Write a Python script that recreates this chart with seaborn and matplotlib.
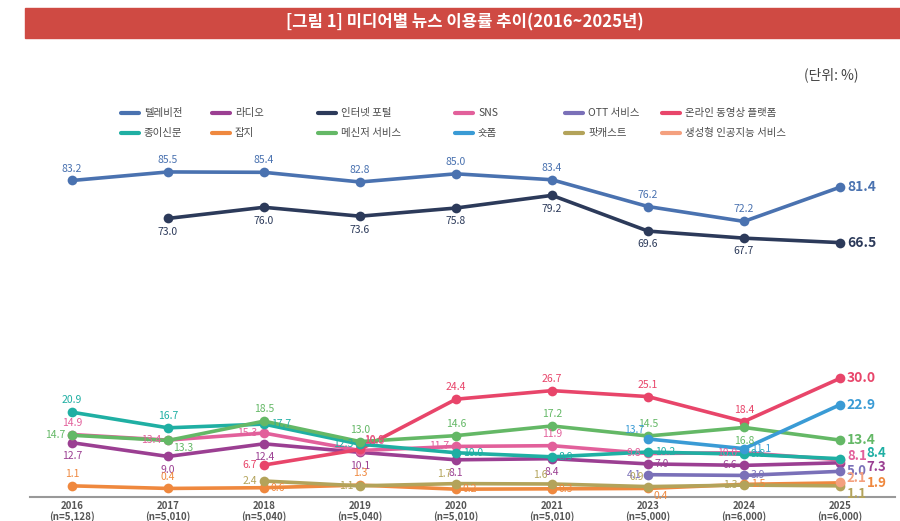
import numpy as np
import pandas as pd
import seaborn as sns
import matplotlib.pyplot as plt
from matplotlib.patches import Rectangle
from matplotlib.lines import Line2D

sns.set_theme(style='white')
plt.rcParams['font.family'] = ['Noto Sans CJK KR', 'DejaVu Sans']

nan = np.nan
years = ['2016', '2017', '2018', '2019', '2020', '2021', '2023', '2024', '2025']
samples = ['5,128', '5,010', '5,040', '5,040', '5,010', '5,010', '5,000', '6,000', '6,000']

media = ['텔레비전', '라디오', '인터넷 포털', 'SNS', 'OTT 서비스', '온라인 동영상 플랫폼',
         '종이신문', '잡지', '메신저 서비스', '숏폼', '팟캐스트', '생성형 인공지능 서비스']

tv = [83.2, 85.5, 85.4, 82.8, 85.0, 83.4, 76.2, 72.2, 81.4]
radio = [12.7, 9.0, 12.4, 10.1, 8.1, 8.4, 7.0, 6.6, 7.3]
portal = [nan, 73.0, 76.0, 73.6, 75.8, 79.2, 69.6, 67.7, 66.5]
sns_use = [14.9, 13.4, 15.3, 10.6, 11.7, 11.9, 9.8, 10.0, 8.1]
ott = [nan, nan, nan, nan, nan, nan, 4.1, 3.9, 5.0]
video = [nan, nan, 6.7, 10.9, 24.4, 26.7, 25.1, 18.4, 30.0]
paper = [20.9, 16.7, 17.7, 12.3, 10.0, 8.9, 10.2, 9.6, 8.4]
magazine = [1.1, 0.4, 0.6, 1.3, 0.2, 0.3, 0.4, 1.5, 1.9]
messenger = [14.7, 13.3, 18.5, 13.0, 14.6, 17.2, 14.5, 16.8, 13.4]
shortform = [nan, nan, nan, nan, nan, nan, 13.7, 11.1, 22.9]
podcast = [nan, nan, 2.4, 1.1, 1.7, 1.6, 0.9, 1.3, 1.1]
gen_ai = [nan, nan, nan, nan, nan, nan, nan, nan, 2.1]

values = [tv, radio, portal, sns_use, ott, video, paper, magazine, messenger, shortform, podcast, gen_ai]

colors = ['#4a72b0', '#9b3f92', '#2c3a5a', '#e2609b', '#7a70b8', '#e8456a',
          '#1fafa3', '#ef883e', '#64b866', '#3a9bd5', '#b3a35a', '#f4a07e']

# label placement per point: a=above b=below l=left r=right R=second column on the right
label_pos = {
    '텔레비전': ['a'] * 8 + ['r'],
    '인터넷 포털': ['b'] * 8 + ['r'],
    '라디오': ['b', 'b', 'b', 'b', 'b', 'b', 'r', 'l', 'Rd'],
    'SNS': ['a', 'l', 'l', 'ar', 'l', 'a', 'l', 'l', 'ru'],
    'OTT 서비스': [None] * 6 + ['l', 'r', 'r'],
    '온라인 동영상 플랫폼': [None, None, 'l', 'ar', 'a', 'a', 'a', 'a', 'r'],
    '종이신문': ['a', 'a', 'r', 'l', 'r', 'r', 'r', 'r', 'Ru'],
    '잡지': ['a', 'a', 'r', 'a', 'r', 'r', 'br', 'r', 'R'],
    '메신저 서비스': ['l', 'br', 'a', 'a', 'a', 'a', 'a', 'b', 'r'],
    '숏폼': [None] * 6 + ['al', 'r', 'r'],
    '팟캐스트': [None, None, 'l', 'l', 'al', 'al', 'al', 'l', 'rd'],
    '생성형 인공지능 서비스': [None] * 8 + ['ru'],
}
offsets = {
    'a': (0, 5, 'center', 'bottom'), 'b': (0, -6, 'center', 'top'),
    'l': (-5, 0, 'right', 'center'), 'r': (5, 0, 'left', 'center'),
    'ru': (5, 3, 'left', 'center'), 'rd': (5, -6, 'left', 'center'),
    'R': (19, 0, 'left', 'center'), 'Ru': (19, 4, 'left', 'center'),
    'Rd': (19, -3, 'left', 'center'), 'al': (-3, 3, 'right', 'bottom'),
    'ar': (3, 3, 'left', 'bottom'), 'br': (4, -2, 'left', 'top'),
}

rows = []
for name, vals in zip(media, values):
    for i, v in enumerate(vals):
        rows.append({'media': name, 'pos': i, 'value': v})
df = pd.DataFrame(rows).dropna()

fig = plt.figure(figsize=(9, 5.21), dpi=100)
W, H = 900, 521
ax = fig.add_axes([30 / W, 1 - 497 / H, 865 / W, 347 / H])

sns.lineplot(data=df, x='pos', y='value', hue='media', hue_order=media,
             palette=dict(zip(media, colors)), marker='o', markersize=7,
             markeredgewidth=0, linewidth=2.6, legend=False, ax=ax, sort=False)

for name, vals, c in zip(media, values, colors):
    for i, v in enumerate(vals):
        if np.isnan(v):
            continue
        code = label_pos[name][i]
        dx, dy, ha, va = offsets[code]
        last = i == len(vals) - 1
        big = name in ('텔레비전', '인터넷 포털', '온라인 동영상 플랫폼', '숏폼', '메신저 서비스')
        ax.annotate(f'{v:.1f}', (i, v), xytext=(dx, dy), textcoords='offset points',
                    ha=ha, va=va, color=c,
                    fontsize=(10 if big else 9.5) if last else 7.5,
                    fontweight='bold' if last else 'normal')

ax.set_xlim(-0.4375, 8.573)
ax.set_ylim(-1.9, 91.4)
ax.set_xticks(range(len(years)))
ax.set_xticklabels([f'{y}\n(n={n})' for y, n in zip(years, samples)],
                   fontsize=7, fontweight='bold', color='#555555', linespacing=1.0)
ax.tick_params(axis='x', length=0, pad=3)
ax.set_yticks([])
ax.set_xlabel(None)
ax.set_ylabel(None)
for s in ['top', 'left', 'right']:
    ax.spines[s].set_visible(False)
ax.spines['bottom'].set_color('#999999')
ax.spines['bottom'].set_linewidth(1.5)

# title banner
fig.patches.append(Rectangle((25 / W, 1 - 38 / H), 1 - 25 / W, 30 / H,
                             transform=fig.transFigure, color='#cf4a43', zorder=0))
fig.text(465 / W, 1 - 22 / H, '[그림 1] 미디어별 뉴스 이용률 추이(2016~2025년)',
         ha='center', va='center', color='white', fontsize=12, fontweight='bold')
fig.text(858 / W, 1 - 75 / H, '(단위: %)', ha='right', va='center',
         color='#444444', fontsize=10)

# legend
leg_x = [121, 212, 318, 455, 565, 662]
leg_y = [113, 133]
for k, (name, c) in enumerate(zip(media, colors)):
    r, col = divmod(k, 6)
    x0 = leg_x[col] / W
    y0 = 1 - leg_y[r] / H
    fig.add_artist(Line2D([x0, x0 + 18 / W], [y0, y0], color=c, linewidth=3,
                          transform=fig.transFigure))
    fig.text(x0 + 23 / W, y0, name, ha='left', va='center', fontsize=7.5,
             color='#4a4a4a')

plt.savefig('out.png', dpi=100)
